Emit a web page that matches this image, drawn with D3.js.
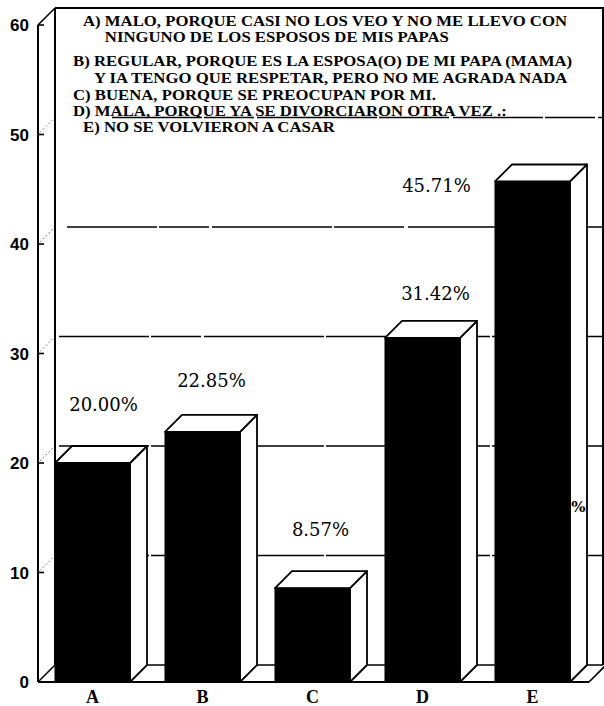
<!DOCTYPE html>
<html><head><meta charset="utf-8">
<script src="https://cdn.jsdelivr.net/npm/d3@7"></script>
<style>body{margin:0;background:#fff}svg{display:block}</style>
</head><body>
<script>
// ---- data ----
const categories = ["A", "B", "C", "D", "E"];
const values = [20.00, 22.85, 8.57, 31.42, 45.71];
const valueLabels = ["20.00%", "22.85%", "8.57%", "31.42%", "45.71%"];
const yTicks = [0, 10, 20, 30, 40, 50, 60];
const legendPrefixes = ["A) ", "B) ", "C) ", "D) ", "E) "];
const legendFirstLines = [
  "MALO, PORQUE CASI NO LOS VEO Y NO ME LLEVO CON",
  "REGULAR, PORQUE ES LA ESPOSA(O) DE MI PAPA (MAMA)",
  "BUENA, PORQUE SE PREOCUPAN POR MI.",
  "MALA, PORQUE YA SE DIVORCIARON OTRA VEZ .:",
  "NO SE VOLVIERON A CASAR"
];
const legendSecondLines = [
  "NINGUNO DE LOS ESPOSOS DE MIS PAPAS",
  "Y IA TENGO QUE RESPETAR, PERO NO ME AGRADA NADA",
  null, null, null
];

// ---- layout ----
const W = 604, H = 706;
const DX = 17, DY = -17;
const svg = d3.select("body").append("svg").attr("width", W).attr("height", H);

const y = d3.scaleLinear().domain([0, 60]).range([682, 25]);
const x = d3.scaleBand().domain(categories).range([55, 570]).paddingInner(0.318).paddingOuter(0);

const axisX = 38;               // front left edge
const backX = axisX + DX;       // back wall left edge
const rightX = 603;             // back wall right edge
const ink = "#000";
const serif = "'Liberation Serif', 'Times New Roman', serif";

// back wall outline
const g = svg.append("g").attr("fill", "none").attr("stroke", ink);
g.append("line").attr("x1", backX).attr("x2", backX).attr("y1", y(0) + DY).attr("y2", y(60) + DY).attr("stroke-width", 2);
g.append("line").attr("x1", backX).attr("x2", W).attr("y1", y(60) + DY).attr("y2", y(60) + DY).attr("stroke-width", 2);
g.append("line").attr("x1", rightX).attr("x2", rightX).attr("y1", y(60) + DY).attr("y2", y(0) + DY).attr("stroke-width", 2);

// grid lines on back wall
yTicks.filter(t => t > 0 && t < 60).forEach(t => {
  const x0 = t === 50 ? 112 : (t === 40 ? backX + 12 : backX + 4);
  g.append("line")
    .attr("x1", x0).attr("x2", rightX)
    .attr("y1", y(t) + DY).attr("y2", y(t) + DY)
    .attr("stroke-width", 1.4)
    .attr("stroke-dasharray", "90,2,50,3,120,2,70,4");
});

// floor
const floorRight = x("E") + x.bandwidth() + DX + 2;
g.append("line").attr("x1", backX).attr("x2", rightX).attr("y1", y(0) + DY).attr("y2", y(0) + DY).attr("stroke-width", 1.6);
g.append("line").attr("x1", axisX).attr("x2", floorRight).attr("y1", y(0)).attr("y2", y(0)).attr("stroke-width", 2);
g.append("line").attr("x1", axisX).attr("x2", backX).attr("y1", y(0)).attr("y2", y(0) + DY).attr("stroke-width", 1.6);
g.append("line").attr("x1", floorRight).attr("x2", floorRight + DX).attr("y1", y(0)).attr("y2", y(0) + DY).attr("stroke-width", 1.6);

// left (front) axis
g.append("line").attr("x1", axisX).attr("x2", axisX).attr("y1", y(0)).attr("y2", y(60)).attr("stroke-width", 2);
g.append("line").attr("x1", axisX).attr("x2", backX).attr("y1", y(60)).attr("y2", y(60) + DY).attr("stroke-width", 1.6);
yTicks.forEach(t => {
  g.append("line").attr("x1", axisX).attr("x2", axisX + 6).attr("y1", y(t)).attr("y2", y(t)).attr("stroke-width", 1.6);
  if (t > 0 && t < 60) {
    g.append("line").attr("x1", axisX + 2).attr("x2", backX - 2).attr("y1", y(t) - 2).attr("y2", y(t) + DY + 2)
      .attr("stroke-width", 0.8).attr("stroke-dasharray", "2,2").attr("stroke", "#555");
  }
});

svg.append("g").selectAll("text").data(yTicks).join("text")
  .attr("x", 29).attr("y", d => y(d) + 6)
  .attr("text-anchor", "end")
  .attr("font-family", "'Liberation Sans', Arial, sans-serif")
  .attr("font-weight", "bold").attr("font-size", 17)
  .text(d => d);

// bars
const bars = svg.append("g").selectAll("g").data(categories).join("g");
bars.each(function(c, i) {
  const bx0 = x(c), bx1 = x(c) + x.bandwidth();
  const top = y(values[i]), bot = y(0);
  const s = d3.select(this);
  s.append("path")
    .attr("d", `M${bx1},${top}L${bx1 + DX},${top + DY}L${bx1 + DX},${bot + DY}L${bx1},${bot}Z`)
    .attr("fill", "#fff").attr("stroke", ink).attr("stroke-width", 1.8).attr("stroke-linejoin", "round");
  s.append("path")
    .attr("d", `M${bx0},${top}L${bx1},${top}L${bx1 + DX},${top + DY}L${bx0 + DX},${top + DY}Z`)
    .attr("fill", "#fff").attr("stroke", ink).attr("stroke-width", 1.8).attr("stroke-linejoin", "round");
  s.append("rect")
    .attr("x", bx0).attr("y", top).attr("width", x.bandwidth()).attr("height", bot - top)
    .attr("fill", ink).attr("stroke", ink).attr("stroke-width", 1);
});

// value labels
const labelOffsets = [[11, -52], [9, -45], [8, -52], [13, -38], [-96, 11]];
svg.append("g").selectAll("text").data(categories).join("text")
  .attr("x", (c, i) => x(c) + x.bandwidth() / 2 + labelOffsets[i][0])
  .attr("y", (c, i) => y(values[i]) + labelOffsets[i][1])
  .attr("text-anchor", "middle")
  .attr("font-family", "'DejaVu Serif', serif")
  .attr("font-size", 18)
  .text((c, i) => valueLabels[i]);

// stray percent sign on the side of bar E
svg.append("text")
  .attr("x", x("E") + x.bandwidth() + DX / 2).attr("y", y(15.5))
  .attr("text-anchor", "middle")
  .attr("font-family", "'DejaVu Serif', serif").attr("font-size", 15).attr("font-weight", "bold")
  .text("%");

// category labels
svg.append("g").selectAll("text").data(categories).join("text")
  .attr("x", c => x(c) + x.bandwidth() / 2)
  .attr("y", 703)
  .attr("text-anchor", "middle")
  .attr("font-family", serif)
  .attr("font-weight", "bold").attr("font-size", 18)
  .text(c => c);

// legend
const legX = [83, 73, 73, 73, 83];
const legY = [[26, 42], [66, 83], [100], [116], [132]];
const legendRight = 567;   // right end of the first legend line
const leg = svg.append("g")
  .attr("font-family", serif)
  .attr("font-weight", "bold").attr("font-size", 15);
const measure = s => {
  const t = leg.append("text").attr("x", -1000).attr("y", -1000).attr("xml:space", "preserve").text(s);
  const w = t.node().getComputedTextLength(); t.remove(); return w;
};
const k = (legendRight - legX[0]) / measure(legendPrefixes[0] + legendFirstLines[0]);
legendPrefixes.forEach((p, i) => {
  const s1 = p + legendFirstLines[i];
  leg.append("text").attr("x", legX[i]).attr("y", legY[i][0]).attr("xml:space", "preserve")
    .attr("textLength", measure(s1) * k).attr("lengthAdjust", "spacingAndGlyphs")
    .text(s1);
  if (legendSecondLines[i]) {
    const pw = measure(p) * k;
    leg.append("text").attr("x", legX[i] + pw).attr("y", legY[i][1])
      .attr("textLength", measure(legendSecondLines[i]) * k).attr("lengthAdjust", "spacingAndGlyphs")
      .text(legendSecondLines[i]);
  }
});
</script>
</body></html>
